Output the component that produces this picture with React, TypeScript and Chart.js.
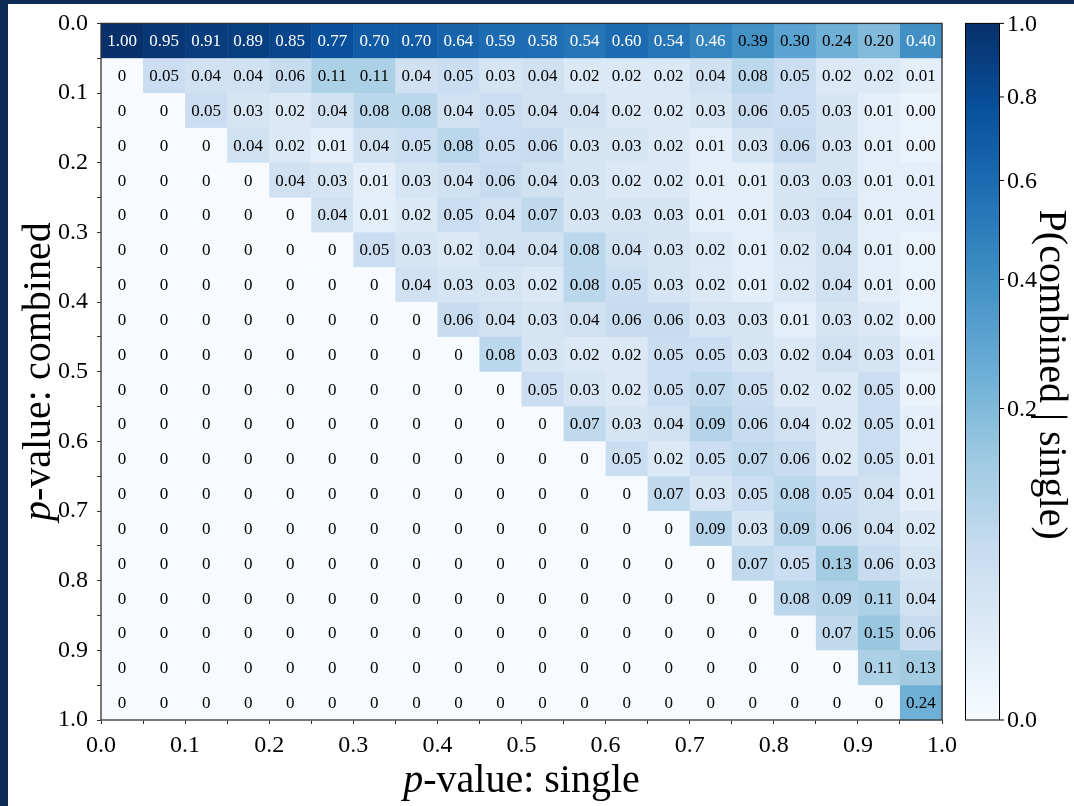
import React, { useEffect, useRef } from 'react';
import { Chart, registerables } from 'chart.js';

Chart.register(...registerables);

// bin starts of p-value (single on x, combined on y)
const binStarts = [0.0, 0.05, 0.1, 0.15, 0.2, 0.25, 0.3, 0.35, 0.4, 0.45, 0.5, 0.55, 0.6, 0.65, 0.7, 0.75, 0.8, 0.85, 0.9, 0.95];
const binWidth = 0.05;

// P(combined | single), one array per combined-p bin (rows), values across single-p bins (columns)
// 0.004 stands for a small non-zero value printed as "0.00"
const row00 = [1.0, 0.95, 0.91, 0.89, 0.85, 0.77, 0.7, 0.7, 0.64, 0.59, 0.58, 0.54, 0.6, 0.54, 0.46, 0.39, 0.3, 0.24, 0.2, 0.4];
const row05 = [0, 0.05, 0.04, 0.04, 0.06, 0.11, 0.11, 0.04, 0.05, 0.03, 0.04, 0.02, 0.02, 0.02, 0.04, 0.08, 0.05, 0.02, 0.02, 0.01];
const row10 = [0, 0, 0.05, 0.03, 0.02, 0.04, 0.08, 0.08, 0.04, 0.05, 0.04, 0.04, 0.02, 0.02, 0.03, 0.06, 0.05, 0.03, 0.01, 0.004];
const row15 = [0, 0, 0, 0.04, 0.02, 0.01, 0.04, 0.05, 0.08, 0.05, 0.06, 0.03, 0.03, 0.02, 0.01, 0.03, 0.06, 0.03, 0.01, 0.004];
const row20 = [0, 0, 0, 0, 0.04, 0.03, 0.01, 0.03, 0.04, 0.06, 0.04, 0.03, 0.02, 0.02, 0.01, 0.01, 0.03, 0.03, 0.01, 0.01];
const row25 = [0, 0, 0, 0, 0, 0.04, 0.01, 0.02, 0.05, 0.04, 0.07, 0.03, 0.03, 0.03, 0.01, 0.01, 0.03, 0.04, 0.01, 0.01];
const row30 = [0, 0, 0, 0, 0, 0, 0.05, 0.03, 0.02, 0.04, 0.04, 0.08, 0.04, 0.03, 0.02, 0.01, 0.02, 0.04, 0.01, 0.004];
const row35 = [0, 0, 0, 0, 0, 0, 0, 0.04, 0.03, 0.03, 0.02, 0.08, 0.05, 0.03, 0.02, 0.01, 0.02, 0.04, 0.01, 0.004];
const row40 = [0, 0, 0, 0, 0, 0, 0, 0, 0.06, 0.04, 0.03, 0.04, 0.06, 0.06, 0.03, 0.03, 0.01, 0.03, 0.02, 0.004];
const row45 = [0, 0, 0, 0, 0, 0, 0, 0, 0, 0.08, 0.03, 0.02, 0.02, 0.05, 0.05, 0.03, 0.02, 0.04, 0.03, 0.01];
const row50 = [0, 0, 0, 0, 0, 0, 0, 0, 0, 0, 0.05, 0.03, 0.02, 0.05, 0.07, 0.05, 0.02, 0.02, 0.05, 0.004];
const row55 = [0, 0, 0, 0, 0, 0, 0, 0, 0, 0, 0, 0.07, 0.03, 0.04, 0.09, 0.06, 0.04, 0.02, 0.05, 0.01];
const row60 = [0, 0, 0, 0, 0, 0, 0, 0, 0, 0, 0, 0, 0.05, 0.02, 0.05, 0.07, 0.06, 0.02, 0.05, 0.01];
const row65 = [0, 0, 0, 0, 0, 0, 0, 0, 0, 0, 0, 0, 0, 0.07, 0.03, 0.05, 0.08, 0.05, 0.04, 0.01];
const row70 = [0, 0, 0, 0, 0, 0, 0, 0, 0, 0, 0, 0, 0, 0, 0.09, 0.03, 0.09, 0.06, 0.04, 0.02];
const row75 = [0, 0, 0, 0, 0, 0, 0, 0, 0, 0, 0, 0, 0, 0, 0, 0.07, 0.05, 0.13, 0.06, 0.03];
const row80 = [0, 0, 0, 0, 0, 0, 0, 0, 0, 0, 0, 0, 0, 0, 0, 0, 0.08, 0.09, 0.11, 0.04];
const row85 = [0, 0, 0, 0, 0, 0, 0, 0, 0, 0, 0, 0, 0, 0, 0, 0, 0, 0.07, 0.15, 0.06];
const row90 = [0, 0, 0, 0, 0, 0, 0, 0, 0, 0, 0, 0, 0, 0, 0, 0, 0, 0, 0.11, 0.13];
const row95 = [0, 0, 0, 0, 0, 0, 0, 0, 0, 0, 0, 0, 0, 0, 0, 0, 0, 0, 0, 0.24];

const rows = [row00, row05, row10, row15, row20, row25, row30, row35, row40, row45, row50, row55, row60, row65, row70, row75, row80, row85, row90, row95];

const axisTicks = [0.0, 0.1, 0.2, 0.3, 0.4, 0.5, 0.6, 0.7, 0.8, 0.9, 1.0];
const colorbarTicks = [0.0, 0.2, 0.4, 0.6, 0.8, 1.0];
const gamma = 0.5;

const xTitleItalic = 'p';
const xTitleRest = '-value: single';
const yTitleRest = '-value: combined';
const cbTitle = 'P(combined | single)';

// matplotlib "Blues"
const bluesStops = ['#f7fbff', '#deebf7', '#c6dbef', '#9ecae1', '#6baed6', '#4292c6', '#2171b5', '#08519c', '#08306b'];

const FONT = '"Liberation Serif", "DejaVu Serif", serif';

function hexToRgb(h: string) {
  return [parseInt(h.slice(1, 3), 16), parseInt(h.slice(3, 5), 16), parseInt(h.slice(5, 7), 16)];
}
function blues(t: number) {
  const tt = Math.max(0, Math.min(1, t));
  const n = bluesStops.length - 1;
  const pos = tt * n;
  const i = Math.min(n - 1, Math.floor(pos));
  const f = pos - i;
  const a = hexToRgb(bluesStops[i]);
  const b = hexToRgb(bluesStops[i + 1]);
  const c = a.map((v, k) => Math.round(v + (b[k] - v) * f));
  return `rgb(${c[0]},${c[1]},${c[2]})`;
}
const norm = (v: number) => Math.pow(Math.max(0, v), gamma);

const heatmapPlugin = {
  id: 'heatmap',
  beforeDraw(chart: any) {
    const { ctx, width, height } = chart;
    ctx.save();
    ctx.fillStyle = '#0c2b56';
    ctx.fillRect(0, 0, width, height);
    ctx.fillStyle = '#ffffff';
    ctx.fillRect(8, 4, width - 8, height - 4);
    ctx.restore();
  },
  beforeDatasetsDraw(chart: any) {
    const { ctx, scales } = chart;
    const xs = scales.x;
    const ys = scales.y;
    ctx.save();
    rows.forEach((row, i) => {
      row.forEach((v, j) => {
        const x0 = xs.getPixelForValue(binStarts[j]);
        const x1 = xs.getPixelForValue(binStarts[j] + binWidth);
        const y0 = ys.getPixelForValue(binStarts[i]);
        const y1 = ys.getPixelForValue(binStarts[i] + binWidth);
        ctx.fillStyle = blues(norm(v));
        const l = Math.min(x0, x1), t = Math.min(y0, y1);
        ctx.fillRect(l, t, Math.abs(x1 - x0) + 0.5, Math.abs(y1 - y0) + 0.5);
      });
    });
    ctx.font = `17px ${FONT}`;
    ctx.textAlign = 'center';
    ctx.textBaseline = 'middle';
    rows.forEach((row, i) => {
      row.forEach((v, j) => {
        const cx = xs.getPixelForValue(binStarts[j] + binWidth / 2);
        const cy = ys.getPixelForValue(binStarts[i] + binWidth / 2);
        ctx.fillStyle = v >= 0.4 ? '#ffffff' : '#000000';
        ctx.fillText(v === 0 ? '0' : v.toFixed(2), cx, cy + 1);
      });
    });
    ctx.restore();
  },
  afterDraw(chart: any) {
    const { ctx, chartArea } = chart;
    const { left, right, top, bottom } = chartArea;
    ctx.save();
    // frame
    ctx.strokeStyle = '#333333';
    ctx.lineWidth = 1.3;
    ctx.strokeRect(left, top, right - left, bottom - top);

    // colorbar
    const cbL = 965, cbR = 1000;
    const grad = ctx.createLinearGradient(0, bottom, 0, top);
    bluesStops.forEach((c, k) => grad.addColorStop(k / (bluesStops.length - 1), c));
    ctx.fillStyle = grad;
    ctx.fillRect(cbL, top, cbR - cbL, bottom - top);
    ctx.strokeStyle = '#000000';
    ctx.lineWidth = 1;
    ctx.strokeRect(cbL + 0.5, top, cbR - cbL - 1, bottom - top);
    ctx.font = `24px ${FONT}`;
    ctx.fillStyle = '#000';
    ctx.textAlign = 'left';
    ctx.textBaseline = 'middle';
    colorbarTicks.forEach((v) => {
      const y = bottom - norm(v) * (bottom - top);
      ctx.beginPath();
      ctx.moveTo(cbR, y);
      ctx.lineTo(cbR + 4, y);
      ctx.stroke();
      ctx.fillText(v.toFixed(1), cbR + 7, y + 1);
    });

    // titles
    const titleSize = 40;
    const italic = `italic ${titleSize}px ${FONT}`;
    const regular = `${titleSize}px ${FONT}`;
    ctx.textBaseline = 'alphabetic';
    ctx.textAlign = 'left';
    const drawTitle = (rest: string, cx: number, baseline: number) => {
      ctx.font = italic;
      const w1 = ctx.measureText(xTitleItalic).width;
      ctx.font = regular;
      const w2 = ctx.measureText(rest).width;
      const start = cx - (w1 + w2) / 2;
      ctx.font = italic;
      ctx.fillText(xTitleItalic, start, baseline);
      ctx.font = regular;
      ctx.fillText(rest, start + w1, baseline);
    };
    // x title
    drawTitle(xTitleRest, (left + right) / 2, 792);
    // y title
    ctx.save();
    ctx.translate(50, (top + bottom) / 2);
    ctx.rotate(-Math.PI / 2);
    drawTitle(yTitleRest, 0, 0);
    ctx.restore();
    // colorbar title
    ctx.save();
    ctx.translate(1040, (top + bottom) / 2 + 3);
    ctx.rotate(Math.PI / 2);
    ctx.font = regular;
    ctx.textAlign = 'center';
    ctx.fillText(cbTitle, 0, 0);
    ctx.restore();
    ctx.restore();
  },
};

const tickCb = (value: any) => {
  const hund = Math.round(Number(value) * 100);
  const match = axisTicks.find((t) => Math.round(t * 100) === hund);
  return match !== undefined ? match.toFixed(1) : '';
};

export default function App() {
  const ref = useRef<HTMLCanvasElement | null>(null);
  useEffect(() => {
    if (!ref.current) return;
    const centers: { x: number; y: number }[] = [];
    rows.forEach((row, i) => row.forEach((_, j) => centers.push({ x: binStarts[j] + binWidth / 2, y: binStarts[i] + binWidth / 2 })));
    const chart = new Chart(ref.current, {
      type: 'scatter',
      data: { datasets: [{ data: centers, pointRadius: 0, pointHoverRadius: 0 }] },
      options: {
        animation: false,
        responsive: false,
        events: [],
        layout: { padding: { left: 0, top: 19, right: 132, bottom: 0 } },
        plugins: { legend: { display: false }, tooltip: { enabled: false } },
        scales: {
          x: {
            type: 'linear',
            min: 0,
            max: 1,
            afterFit: (s: any) => { s.height = 86; },
            ticks: { stepSize: 0.05, autoSkip: false, maxRotation: 0, padding: 7, color: '#000', font: { family: FONT, size: 24 }, callback: tickCb },
            grid: { drawOnChartArea: false, drawTicks: true, tickLength: 4, color: '#333', lineWidth: 1 },
            border: { display: false },
          },
          y: {
            type: 'linear',
            min: 0,
            max: 1,
            reverse: true,
            afterFit: (s: any) => { s.width = 101; },
            ticks: { stepSize: 0.05, autoSkip: false, padding: 9, color: '#000', font: { family: FONT, size: 24 }, callback: tickCb },
            grid: { drawOnChartArea: false, drawTicks: true, tickLength: 4, color: '#333', lineWidth: 1 },
            border: { display: false },
          },
        },
      },
      plugins: [heatmapPlugin],
    });
    return () => chart.destroy();
  }, []);
  return (
    <div style={{ position: 'fixed', left: 0, top: 0, width: 1074, height: 806 }}>
      <canvas ref={ref} width={1074} height={806} style={{ display: 'block' }} />
    </div>
  );
}
